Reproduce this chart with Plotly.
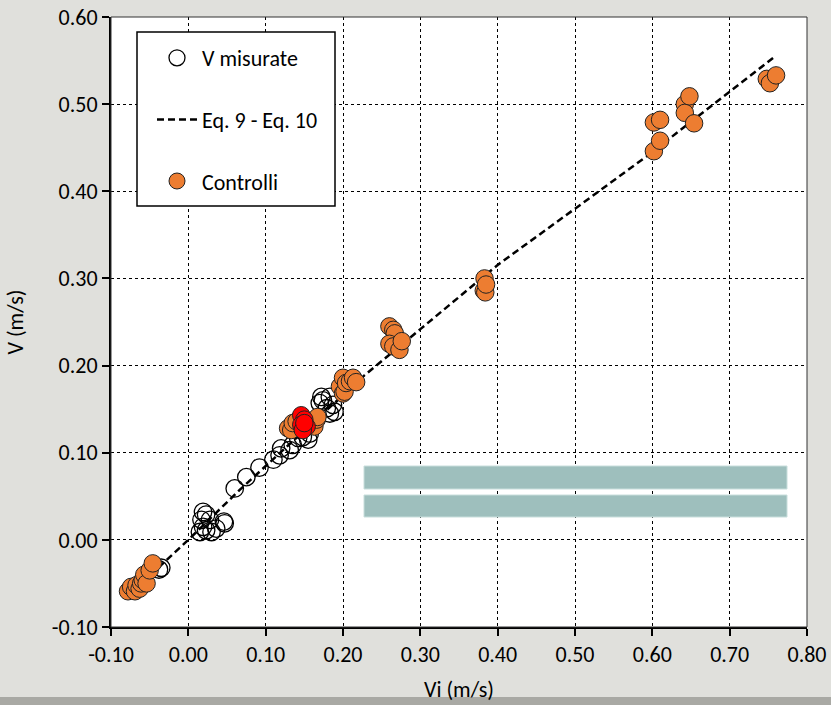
import plotly.graph_objects as go

# Measured velocities (V misurate)
vm_x = [-0.035, -0.038, 0.015, 0.017, 0.019, 0.019, 0.023, 0.023, 0.028, 0.030, 0.036, 0.046, 0.047,
        0.060, 0.075, 0.092, 0.110, 0.118, 0.120, 0.131, 0.135, 0.142, 0.148, 0.155, 0.157,
        0.170, 0.172, 0.174, 0.179, 0.183, 0.183, 0.187, 0.189]
vm_y = [-0.032, -0.034, 0.009, 0.023, 0.032, 0.015, 0.029, 0.011, 0.023, 0.009, 0.013, 0.021, 0.019,
        0.059, 0.072, 0.083, 0.092, 0.097, 0.105, 0.103, 0.109, 0.117, 0.118, 0.115, 0.122,
        0.157, 0.164, 0.160, 0.151, 0.164, 0.145, 0.155, 0.147]

# Control points (Controlli)
co_x = [-0.078, -0.074, -0.069, -0.067, -0.063, -0.061, -0.059, -0.057, -0.054, -0.050, -0.046,
        0.129, 0.133, 0.135, 0.140, 0.163, 0.166, 0.167,
        0.196, 0.200, 0.200, 0.202, 0.204, 0.209, 0.213, 0.217,
        0.260, 0.265, 0.267, 0.260, 0.265, 0.273, 0.276,
        0.382, 0.383, 0.384, 0.385,
        0.602, 0.602, 0.610, 0.610, 0.642, 0.642, 0.648, 0.654,
        0.748, 0.752, 0.760]
co_y = [-0.059, -0.054, -0.059, -0.052, -0.056, -0.050, -0.046, -0.040, -0.050, -0.035, -0.027,
        0.128, 0.126, 0.134, 0.136, 0.130, 0.138, 0.141,
        0.176, 0.186, 0.168, 0.170, 0.180, 0.182, 0.186, 0.181,
        0.245, 0.241, 0.237, 0.225, 0.222, 0.218, 0.228,
        0.286, 0.300, 0.284, 0.293,
        0.479, 0.446, 0.482, 0.458, 0.500, 0.490, 0.509, 0.478,
        0.529, 0.524, 0.533]

# Highlighted control points (red)
red_x = [0.146, 0.150, 0.146, 0.153, 0.148, 0.150]
red_y = [0.143, 0.138, 0.132, 0.130, 0.126, 0.134]

# Eq. 9 - Eq. 10 curve
eq_x = [-0.08, 0.0, 0.0664, 0.15, 0.228, 0.30, 0.40, 0.50, 0.5925, 0.68, 0.7585]
eq_y = [-0.066, 0.0, 0.0573, 0.1254, 0.189, 0.2418, 0.3155, 0.380, 0.440, 0.5004, 0.5546]

tick_vals_x = [-0.1, 0.0, 0.1, 0.2, 0.3, 0.4, 0.5, 0.6, 0.7, 0.8]
tick_text_x = ["-0.10", "0.00", "0.10", "0.20", "0.30", "0.40", "0.50", "0.60", "0.70", "0.80"]
tick_vals_y = [-0.1, 0.0, 0.1, 0.2, 0.3, 0.4, 0.5, 0.6]
tick_text_y = ["-0.10", "0.00", "0.10", "0.20", "0.30", "0.40", "0.50", "0.60"]

FONT = "Calibri, Carlito, Lato, sans-serif"
FS = 22
ORANGE = "#ED7D31"

fig = go.Figure()
fig.add_trace(go.Scatter(
    x=eq_x, y=eq_y, mode="lines", name="Eq. 9 - Eq. 10",
    line=dict(color="black", width=2.5, dash="7px,4px"),
    legendgroup="b", legendrank=2))
fig.add_trace(go.Scatter(
    x=vm_x, y=vm_y, mode="markers", name="V misurate",
    marker=dict(symbol="circle", size=17.5, color="rgba(0,0,0,0)",
                line=dict(color="black", width=1.3)),
    legendgroup="a", legendrank=1))
fig.add_trace(go.Scatter(
    x=co_x, y=co_y, mode="markers", name="Controlli",
    marker=dict(symbol="circle", size=17.5, color=ORANGE,
                line=dict(color="#222222", width=1)),
    legendgroup="c", legendrank=3))
fig.add_trace(go.Scatter(
    x=red_x, y=red_y, mode="markers", name="Controlli (evidenziati)",
    marker=dict(symbol="circle", size=17.5, color="#FF0000",
                line=dict(color="#222222", width=1)),
    showlegend=False))

axis_common = dict(
    showgrid=True, gridcolor="black", gridwidth=1, griddash="dot",
    zeroline=False, showline=True, linecolor="black", linewidth=2,
    ticks="outside", ticklen=7, tickcolor="black", tickwidth=1.5,
    automargin=False,
    tickfont=dict(family=FONT, size=FS, color="black"),
)

fig.update_xaxes(range=[-0.1, 0.8], tickvals=tick_vals_x, ticktext=tick_text_x,
                 title=dict(text="Vi (m/s)", font=dict(family=FONT, size=FS, color="black"), standoff=14),
                 **axis_common)
fig.update_yaxes(range=[-0.1, 0.6], tickvals=tick_vals_y, ticktext=tick_text_y,
                 title=dict(text="V (m/s)", font=dict(family=FONT, size=FS, color="black"), standoff=22),
                 **axis_common)

PW, PH = 696, 610
fig.update_layout(
    width=831, height=705,
    margin=dict(l=111, r=24, t=17, b=78, autoexpand=False),
    paper_bgcolor="#E0E0DC", plot_bgcolor="white",
    font=dict(family=FONT, size=FS, color="black"),
    legend=dict(
        x=(152 - 111) / PW, y=1 - (37 - 17) / PH, xanchor="left", yanchor="top",
        bgcolor="rgba(0,0,0,0)", borderwidth=0,
        traceorder="grouped", tracegroupgap=30,
        font=dict(family=FONT, size=FS, color="black"),
        itemwidth=40,
    ),
    shapes=[
        dict(type="rect", xref="paper", yref="paper", x0=0, x1=1, y0=0, y1=1,
             line=dict(color="#333333", width=1), fillcolor="rgba(0,0,0,0)", layer="above"),
        # legend frame
        dict(type="rect", xref="paper", yref="paper",
             x0=(137 - 111) / PW, x1=(335 - 111) / PW,
             y0=1 - (206 - 17) / PH, y1=1 - (32 - 17) / PH,
             fillcolor="white", line=dict(color="black", width=1.5), layer="above"),
        dict(type="rect", xref="paper", yref="paper",
             x0=(364 - 111) / PW, x1=(787 - 111) / PW,
             y0=(627 - 489) / PH, y1=(627 - 466) / PH,
             fillcolor="#9EBFBD", line=dict(color="#C8DEDC", width=1), layer="above"),
        dict(type="rect", xref="paper", yref="paper",
             x0=(364 - 111) / PW, x1=(787 - 111) / PW,
             y0=(627 - 517) / PH, y1=(627 - 495) / PH,
             fillcolor="#9EBFBD", line=dict(color="#C8DEDC", width=1), layer="above"),
        dict(type="rect", xref="paper", yref="paper",
             x0=-111 / PW, x1=1 + 24 / PW,
             y0=-(705 - 627) / PH, y1=-(697 - 627) / PH,
             fillcolor="#A9A9A4", line=dict(width=0), layer="above"),
    ],
)

fig.write_html("out.html", config={"displayModeBar": False},
               post_script="document.body.style.margin='0px';")
